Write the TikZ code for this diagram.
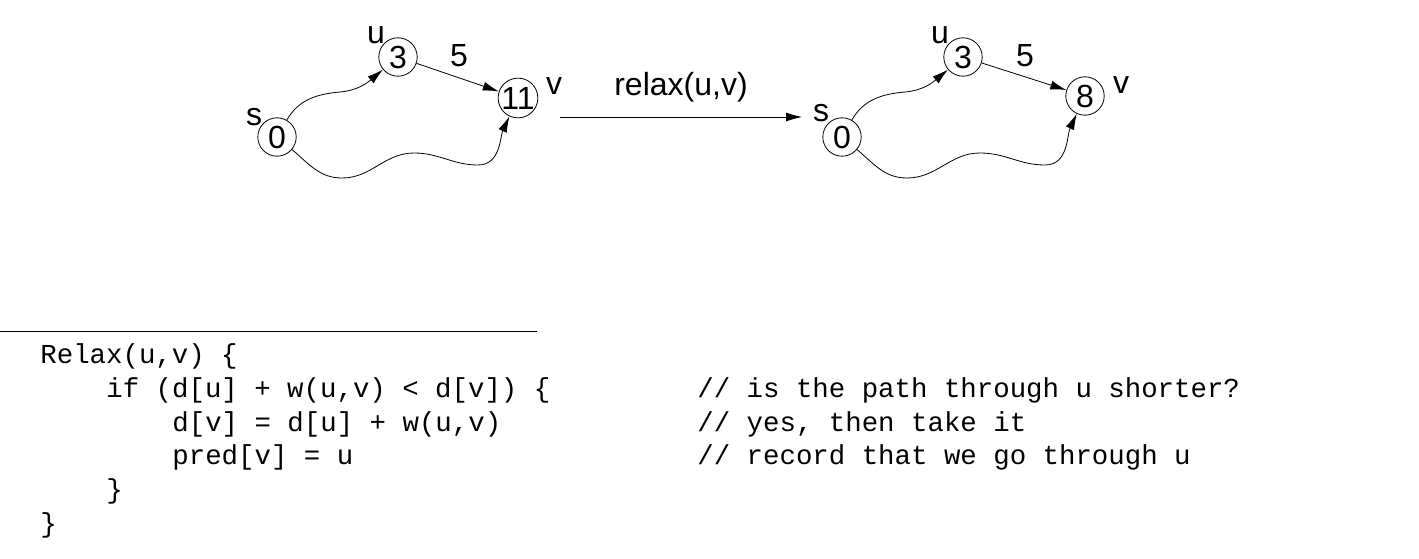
\documentclass[tikz,border=0pt]{standalone}
\usepackage{fontspec}
\setmainfont{Liberation Sans}
\newfontfamily\codefont{Liberation Mono}
\usetikzlibrary{arrows.meta, positioning}

\begin{document}
\begin{tikzpicture}[
    x=0.5pt, y=0.5pt,
    vertex/.style={circle, draw, thin, minimum size=19.2pt, inner sep=0pt, font=\fontsize{16}{18}\selectfont},
    lbl/.style={font=\fontsize{16}{18}\selectfont, inner sep=0pt},
    arrow/.style={-{Latex[length=8pt, width=4.5pt]}, thin},
    code/.style={anchor=base west, inner sep=0pt, font=\codefont\fontsize{13.7}{16}\selectfont}
]
    \useasboundingbox (0,0) rectangle (1419,558);

    % Before
    \node[vertex] (s0) at (277,421) {0};
    \node[vertex] (u0) at (398,501) {3};
    \node[vertex] (v0) at (518,460) {11};
    \node[lbl] (s0l) at (254,441) {s};
    \node[lbl] (u0l) at (376,523) {u};
    \node[lbl] (w0l) at (459,502) {5};
    \node[lbl] (v0l) at (554,472) {v};

    \draw[arrow] (s0) to[out=60, in=185] (340,466) to[out=5, in=-140] (u0);
    \draw[arrow] (u0) -- (v0);
    \draw[arrow] (s0) to[out=-40, in=180] (342,380) to[out=0, in=180] (414,405)
        to[out=0, in=180] (478,393) to[out=0, in=-115] (v0);

    % Relax step
    \coordinate (ra) at (560,441);
    \coordinate (rb) at (802,441);
    \draw[arrow] (ra) -- node[lbl, above=7pt] {relax(u,v)} (rb);

    % After
    \node[vertex] (s1) at (842,421) {0};
    \node[vertex] (u1) at (963,501) {3};
    \node[vertex] (v1) at (1085,462) {8};
    \node[lbl] (s1l) at (821,445) {s};
    \node[lbl] (u1l) at (940,523) {u};
    \node[lbl] (w1l) at (1025,502) {5};
    \node[lbl] (v1l) at (1121,473) {v};

    \draw[arrow] (s1) to[out=60, in=185] (905,466) to[out=5, in=-140] (u1);
    \draw[arrow] (u1) -- (v1);
    \draw[arrow] (s1) to[out=-40, in=180] (907,380) to[out=0, in=180] (980,405)
        to[out=0, in=180] (1045,393) to[out=0, in=-115] (v1);

    % Code
    \coordinate (r0) at (0,227);
    \coordinate (r1) at (537,227);
    \draw[thin] (r0) -- (r1);

    \node[code] (c1) at (40,195) {Relax(u,v) \{};
    \node[code] (c2) at (106,161) {if (d[u] + w(u,v) < d[v]) \{};
    \node[code] (c3) at (172,127) {d[v] = d[u] + w(u,v)};
    \node[code] (c4) at (172,94) {pred[v] = u};
    \node[code] (c5) at (106,60) {\}};
    \node[code] (c6) at (40,26) {\}};

    \node[code] (m2) at (697,161) {// is the path through u shorter?};
    \node[code] (m3) at (697,127) {// yes, then take it};
    \node[code] (m4) at (697,94) {// record that we go through u};
\end{tikzpicture}
\end{document}
